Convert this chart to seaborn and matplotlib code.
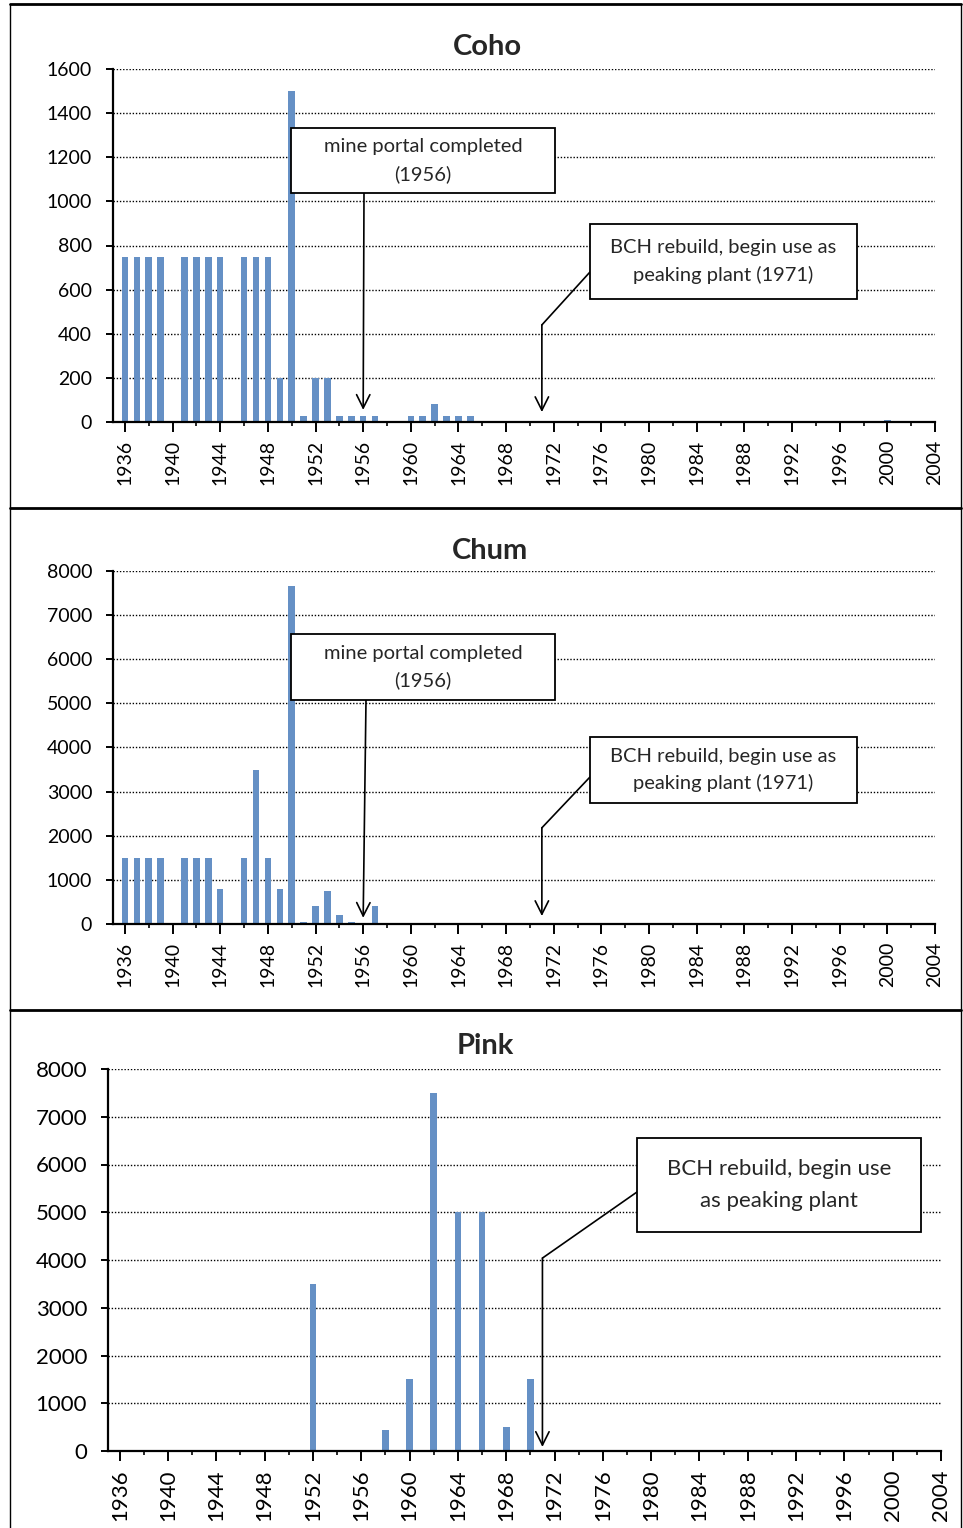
import numpy as np
import matplotlib
matplotlib.use("Agg")
import matplotlib.pyplot as plt
from matplotlib.lines import Line2D
from matplotlib.patches import Rectangle
from matplotlib.ticker import MultipleLocator
import seaborn as sns

# data (years with no bar are zero)
years = np.arange(1936, 2005)

coho_years = [1936, 1937, 1938, 1939, 1941, 1942, 1943, 1944, 1946, 1947, 1948, 1949,
              1950, 1951, 1952, 1953, 1954, 1955, 1956, 1957, 1960, 1961, 1962, 1963,
              1964, 1965, 2000]
coho_vals = [750, 750, 750, 750, 750, 750, 750, 750, 750, 750, 750, 200,
             1500, 25, 200, 200, 25, 25, 25, 25, 25, 25, 80, 25,
             25, 25, 10]

chum_years = [1936, 1937, 1938, 1939, 1941, 1942, 1943, 1944, 1946, 1947, 1948, 1949,
              1950, 1951, 1952, 1953, 1954, 1955, 1957, 1973]
chum_vals = [1500, 1500, 1500, 1500, 1500, 1500, 1500, 800, 1500, 3500, 1500, 800,
             7650, 50, 400, 750, 200, 50, 400, 30]

pink_years = [1952, 1958, 1960, 1962, 1964, 1966, 1968, 1970]
pink_vals = [3500, 450, 1500, 7500, 5000, 5000, 500, 1500]

xtick_labels = [str(y) for y in range(1936, 2005, 4)]

BLUE = "#558ED5"
W, H = 963, 1528

sns.set_theme(style="white")
plt.rcParams['font.family'] = ['Lato', 'DejaVu Sans']


def fx(px):
    return px / W


def fy(py):
    return 1 - py / H


def full(yrs, vals):
    out = np.zeros(len(years))
    for y, v in zip(yrs, vals):
        out[y - 1936] = v
    return out


fig = plt.figure(figsize=(W / 100, H / 100), dpi=100)


def panel(x0, x1, ytop, ybot, yrs, vals, ymax, ystep, fs, left_year):
    ax = fig.add_axes([fx(x0), fy(ybot), (x1 - x0) / W, (ybot - ytop) / H])
    sns.barplot(x=years, y=full(yrs, vals), native_scale=True, width=0.55,
                color=BLUE, linewidth=0, errorbar=None, ax=ax)
    ax.set_xlim(left_year, 2004)
    ax.set_ylim(0, ymax)
    ax.set_xlabel("")
    ax.set_ylabel("")
    ax.set_xticks(range(1936, 2005, 4))
    ax.set_xticklabels(xtick_labels, rotation=90)
    ax.xaxis.set_minor_locator(MultipleLocator(2))
    ax.yaxis.set_major_locator(MultipleLocator(ystep))
    ax.tick_params(axis="x", which="major", length=7, width=1.4, direction="out",
                   bottom=True, labelsize=fs, pad=6, colors="black")
    ax.tick_params(axis="x", which="minor", length=3, width=1.4, direction="out",
                   bottom=True)
    ax.tick_params(axis="y", length=5, width=1.4, direction="out", left=True,
                   labelsize=fs, pad=10, colors="black")
    for s in ["top", "right"]:
        ax.spines[s].set_visible(False)
    for s in ["left", "bottom"]:
        ax.spines[s].set_color("black")
        ax.spines[s].set_linewidth(1.6)
    ax.yaxis.grid(True, linestyle=(0, (1, 1.3)), color="black", linewidth=1)
    ax.set_axisbelow(True)
    return ax


def box(x0, x1, y0, y1, text, fs, ls):
    fig.add_artist(Rectangle((fx(x0), fy(y1)), (x1 - x0) / W, (y1 - y0) / H,
                             transform=fig.transFigure, facecolor="white",
                             edgecolor="black", linewidth=1.3, zorder=5))
    fig.text(fx((x0 + x1) / 2), fy((y0 + y1) / 2), text, ha="center", va="center",
             fontsize=fs, linespacing=ls, zorder=6)


def arrow(ax, start, tip):
    ax.annotate("", xy=tip, xycoords="data", xytext=start, textcoords="figure fraction",
                arrowprops=dict(arrowstyle="->", mutation_scale=24, lw=1.2,
                                color="black", shrinkA=0, shrinkB=0), zorder=7)


def bent(ax, start, bend, tip):
    ax.annotate("", xy=bend, xycoords="data", xytext=start, textcoords="figure fraction",
                arrowprops=dict(arrowstyle="-", lw=1.2, color="black",
                                shrinkA=0, shrinkB=0), zorder=7)
    ax.annotate("", xy=tip, xycoords="data", xytext=bend, textcoords="data",
                arrowprops=dict(arrowstyle="->", mutation_scale=24, lw=1.2,
                                color="black", shrinkA=0, shrinkB=0), zorder=7)


# Coho
ax1 = panel(113, 935, 69, 422, coho_years, coho_vals, 1600, 200, 14, 1935)
fig.text(fx(487), fy(47), "Coho", ha="center", va="center", fontsize=21,
         fontweight="bold")
box(291, 555, 128, 193, "mine portal completed\n(1956)", 14.5, 1.65)
arrow(ax1, (fx(364), fy(193)), (1956, 55))
box(590, 857, 224, 299, "BCH rebuild, begin use as\npeaking plant (1971)", 14.5, 1.65)
bent(ax1, (fx(590), fy(272)), (1971, 440), (1971, 45))

# Chum
ax2 = panel(113, 935, 571, 924, chum_years, chum_vals, 8000, 1000, 14, 1935)
fig.text(fx(490), fy(551), "Chum", ha="center", va="center", fontsize=21,
         fontweight="bold")
box(291, 555, 634, 700, "mine portal completed\n(1956)", 14.5, 1.65)
arrow(ax2, (fx(366), fy(700)), (1956, 140))
box(590, 857, 737, 803, "BCH rebuild, begin use as\npeaking plant (1971)", 14.5, 1.65)
bent(ax2, (fx(590), fy(777)), (1971, 2180), (1971, 180))

# Pink
ax3 = panel(108, 941, 1069, 1451, pink_years, pink_vals, 8000, 1000, 16, 1935.03)
fig.text(fx(485), fy(1046), "Pink", ha="center", va="center", fontsize=21,
         fontweight="bold")
box(637, 921, 1138, 1232, "BCH rebuild, begin use\nas peaking plant", 16, 1.75)
bent(ax3, (fx(637), fy(1192)), (1971, 4040), (1971, 85))

# chart frames
for seg in [((10, 961), (4, 4)), ((10, 961), (508, 508)), ((10, 961), (1010, 1010)),
            ((10, 10), (4, 1528)), ((961, 961), (4, 1528))]:
    lw = 1.0 if seg[0][0] == seg[0][1] else 2.0
    fig.add_artist(Line2D([fx(v) for v in seg[0]], [fy(v) for v in seg[1]],
                          transform=fig.transFigure, color="black", linewidth=lw))

fig.savefig("out.png", dpi=100)
